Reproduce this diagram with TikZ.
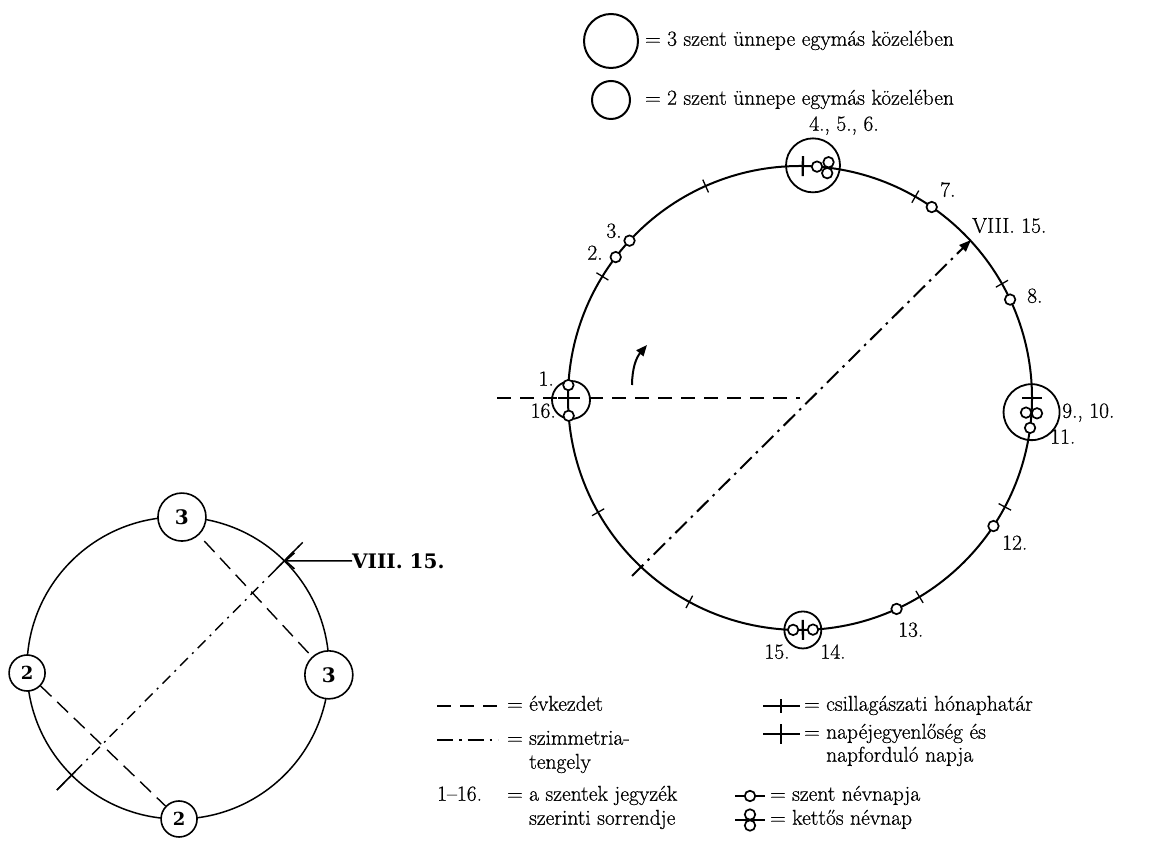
\documentclass[tikz,border=0pt]{standalone}
\usepackage{fontspec}
\newfontfamily\slab{DejaVu Serif}
\newfontfamily\reffont{Latin Modern Roman}[FakeBold=0.6]
\usetikzlibrary{arrows.meta,calc}
\begin{document}
\begin{tikzpicture}[x=1pt,y=1pt,
 lbl/.style={font=\reffont\fontsize{21.5}{25}\selectfont, inner sep=0pt, text height=14pt, text depth=4.5pt},
 mainline/.style={line width=2pt},
 ringline/.style={circle, draw, line width=1.8pt, inner sep=0pt},
 thintick/.style={line width=1.3pt},
 thicktick/.style={line width=2.3pt},
 saint/.style={circle, draw, line width=1.7pt, fill=white, minimum size=10.5pt, inner sep=0pt},
 yearstart/.style={line width=2pt, dash pattern=on 14pt off 9pt},
 axisline/.style={line width=2pt, dash pattern=on 16pt off 6pt on 2.5pt off 6pt},
 smallline/.style={line width=1.5pt},
 smalldash/.style={line width=1.4pt, dash pattern=on 15pt off 8pt},
 smallaxis/.style={line width=1.4pt, dash pattern=on 11pt off 6pt on 2pt off 6pt},
 numthree/.style={circle, draw, line width=1.6pt, fill=white, inner sep=0pt, minimum size=48pt, font=\slab\bfseries\fontsize{20}{20}\selectfont},
 numtwo/.style={circle, draw, line width=1.6pt, fill=white, inner sep=0pt, minimum size=36pt, font=\slab\bfseries\fontsize{18}{18}\selectfont},
]
\useasboundingbox (0,0) rectangle (1169,843);

% ---------- top legend ----------
\node[ringline, line width=2pt, minimum size=54pt] (legbig) at (611,802) {};
\node[lbl, anchor=west] (legbigtxt) at (645,802) {= 3 szent ünnepe egymás közelében};
\node[ringline, line width=2pt, minimum size=38pt] (legsmall) at (611,743) {};
\node[lbl, anchor=west] (legsmalltxt) at (645,743) {= 2 szent ünnepe egymás közelében};

% ---------- main circle ----------
\coordinate (C) at (800,445);
\draw[mainline] (C) circle[radius=232pt];

% group rings
\node[ringline, minimum size=54pt] (ringT) at ($(C)+(86.8:233)$) {};
\node[ringline, minimum size=38pt] (ringL) at ($(C)+(180.5:229)$) {};
\node[ringline, minimum size=56pt] (ringR) at ($(C)+(-3.5:232)$) {};
\node[ringline, minimum size=37pt] (ringB) at ($(C)+(270.7:232)$) {};

% astronomical month boundaries
\foreach \a in {29.5,60.2,114,148.4,209.5,241.5,301,332}
  \draw[thintick] ($(C)+(\a:225)$) -- ($(C)+(\a:239)$);
% equinoxes and solstices
\foreach \a in {0,89.3,180,270.7}
  \draw[thicktick] ($(C)+(\a:222)$) -- ($(C)+(\a:242)$);

% year start
\coordinate (ys) at (497,445);
\draw[yearstart] (ys) -- (C);

% symmetry axis
\coordinate (axL) at (632,267);
\coordinate (axU) at (971,603);
\draw[axisline, -{Triangle[length=12pt,width=9pt]}] (axL) -- (axU);

% direction arrow
\coordinate (arA) at (632,458);
\coordinate (arB) at (647,498);
\draw[line width=2pt, -{Triangle[length=11pt,width=9pt]}] (arA) to[bend left=20] (arB);

% saints' days
\node[saint] (n1) at ($(C)+(176.8:232)$) {};
\node[saint] (n16) at ($(C)+(184.4:232)$) {};
\node[saint] (n2) at ($(C)+(142.6:232)$) {};
\node[saint] (n3) at ($(C)+(137.3:232)$) {};
\node[saint] (n4) at ($(C)+(85.8:232)$) {};
\node[saint] (n5) at ($(C)+(83.1:237.5)$) {};
\node[saint] (n6) at ($(C)+(83.1:226.5)$) {};
\node[saint] (n7) at ($(C)+(55.4:232)$) {};
\node[saint] (n8) at ($(C)+(25.1:232)$) {};
\node[saint] (n9) at ($(C)+(-3.7:237.5)$) {};
\node[saint] (n10) at ($(C)+(-3.7:226.5)$) {};
\node[saint] (n11) at ($(C)+(-7.4:232)$) {};
\node[saint] (n12) at ($(C)+(-33.5:232)$) {};
\node[saint] (n13) at ($(C)+(-65.4:232)$) {};
\node[saint] (n14) at ($(C)+(-86.8:232)$) {};
\node[saint] (n15) at ($(C)+(-91.7:232)$) {};

% labels
\node[lbl] (L456) at (844,717) {4., 5., 6.};
\node[lbl, anchor=west] (L7) at (940,651) {7.};
\node[lbl, anchor=west] (LVIII) at (972,615) {VIII. 15.};
\node[lbl, anchor=west] (L8) at (1027,545) {8.};
\node[lbl] (L3) at (614,610) {3.};
\node[lbl] (L2) at (595,588) {2.};
\node[lbl, anchor=east] (L1) at (554,462) {1.};
\node[lbl, anchor=east] (L16) at (556,430) {16.};
\node[lbl, anchor=west] (L910) at (1062,430) {9., 10.};
\node[lbl, anchor=west] (L11) at (1050,404) {11.};
\node[lbl, anchor=west] (L12) at (1002,298) {12.};
\node[lbl, anchor=west] (L13) at (898,211) {13.};
\node[lbl] (L15) at (777,189) {15.};
\node[lbl] (L14) at (833,189) {14.};

% ---------- bottom legend ----------
\coordinate (kd1) at (437,137); \coordinate (kd2) at (498,137);
\draw[yearstart] (kd1) -- (kd2);
\node[lbl, anchor=west] (tkd) at (507,137) {= évkezdet};

\coordinate (sz1) at (437,103); \coordinate (sz2) at (498,103);
\draw[axisline] (sz1) -- (sz2);
\node[lbl, anchor=west] (tsz) at (507,103) {= szimmetria-};
\node[lbl, anchor=west] (tsz2) at (507,79) {\phantom{= }tengely};

\node[lbl, anchor=west] (tnum) at (437,47) {1–16.};
\node[lbl, anchor=west] (tnum1) at (507,47) {= a szentek jegyzék};
\node[lbl, anchor=west] (tnum2) at (507,23) {\phantom{= }szerinti sorrendje};

\coordinate (ch1) at (763,137); \coordinate (ch2) at (800,137);
\draw[thintick] (ch1) -- (ch2);
\coordinate (cht) at (781,137);
\draw[thintick] ($(cht)+(0,-7)$) -- ($(cht)+(0,7)$);
\node[lbl, anchor=west] (tch) at (804,137) {= csillagászati hónaphatár};

\coordinate (nj1) at (763,109); \coordinate (nj2) at (800,109);
\draw[thicktick] (nj1) -- (nj2);
\coordinate (njt) at (781,109);
\draw[thicktick] ($(njt)+(0,-10)$) -- ($(njt)+(0,10)$);
\node[lbl, anchor=west] (tnj) at (804,109) {= napéjegyenlőség és};
\node[lbl, anchor=west] (tnj2) at (804,86) {\phantom{= }napforduló napja};

\coordinate (sn1) at (735,47); \coordinate (sn2) at (765,47);
\draw[mainline] (sn1) -- (sn2);
\node[saint] (snc) at (750,47) {};
\node[lbl, anchor=west] (tsn) at (770,47) {= szent névnapja};

\coordinate (kn1) at (735,23); \coordinate (kn2) at (765,23);
\draw[mainline] (kn1) -- (kn2);
\node[saint] (knu) at (750,28.5) {};
\node[saint] (knd) at (750,17.5) {};
\node[lbl, anchor=west] (tkn) at (770,23) {= kettős névnap};

% ---------- small diagram ----------
\coordinate (S) at (178,175);
\draw[smallline] (S) circle[radius=151pt];
\coordinate (sa1) at ($(S)+(225.2:172)$);
\coordinate (sa2) at ($(S)+(45.2:177)$);
\draw[smallaxis] (sa1) -- (sa2);
\draw[smallline] ($(S)+(45.2:139)$) -- (sa2);
\draw[smallline] ($(S)+(225.2:146)$) -- (sa1);
\node[numthree] (t3) at ($(S)+(88.5:151)$) {3};
\node[numthree] (r3) at ($(S)+(-2.6:151)$) {3};
\node[numtwo] (l2) at ($(S)+(181.9:151)$) {2};
\node[numtwo] (b2) at ($(S)+(270.4:151)$) {2};
\draw[smalldash, shorten <=8pt] (t3) -- (r3);
\draw[smalldash] (l2) -- (b2);
\coordinate (cross) at ($(S)+(45.2:151)$);
\node[font=\slab\bfseries\fontsize{20}{20}\selectfont, anchor=west, inner sep=0pt] (v815) at (352,282) {VIII. 15.};
\draw[smallline, -{Straight Barb[length=9pt,width=16pt]}] (v815.west) -- (cross);
\end{tikzpicture}
\end{document}
